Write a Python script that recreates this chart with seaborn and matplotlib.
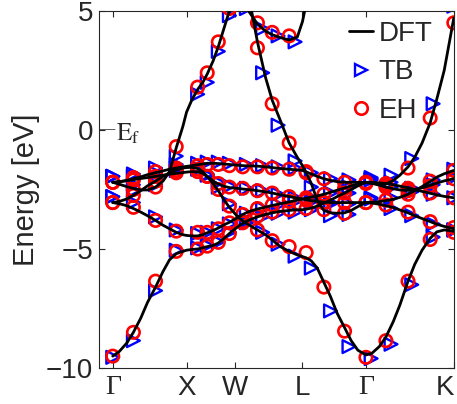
import numpy as np
import pandas as pd
import seaborn as sns
import matplotlib.pyplot as plt
from matplotlib.lines import Line2D

sns.set_style('ticks')
plt.rcParams['font.family'] = ['Liberation Sans', 'DejaVu Sans']
plt.rcParams['mathtext.fontset'] = 'stix'
plt.rcParams['xtick.direction'] = 'in'
plt.rcParams['ytick.direction'] = 'in'

nan = np.nan

# k-path positions of the high-symmetry points
sym_k = [0.0, 1.0, 1.65, 2.57, 3.43, 4.62]
sym_labels = ['Γ', 'X', 'W', 'L', 'Γ', 'K']

# DFT bands (eV) sampled along the path
k_dft = [0.00, 0.09, 0.19, 0.28, 0.38, 0.47, 0.58, 0.68, 0.77, 0.86,
         0.95, 1.00, 1.07, 1.15, 1.22, 1.28, 1.36, 1.43, 1.51, 1.58,
         1.68, 1.76, 1.85, 1.96, 2.07, 2.16, 2.27, 2.39, 2.50, 2.57,
         2.62, 2.69, 2.77, 2.86, 2.95, 3.04, 3.14, 3.23, 3.32, 3.43,
         3.51, 3.61, 3.70, 3.80, 3.89, 4.00, 4.09, 4.19, 4.30, 4.39,
         4.49, 4.62]
band_s = [-9.50, -9.30, -8.95, -8.50, -7.90, -7.25, -6.60, -5.95, -5.45, -5.20,
          -5.10, -5.05, -5.02, -5.00, -4.95, -4.90, -4.85, -4.75, -4.55, -4.35,
          -4.10, -3.92, -3.78, -3.65, -3.55, -3.48, -3.42, -3.38, -3.35, -3.35,
          -3.33, -3.28, -3.20, -3.07, -2.95, -2.80, -2.65, -2.50, -2.35, -2.20,
          -2.20, -2.22, -2.25, -2.30, -2.36, -2.43, -2.50, -2.58, -2.66, -2.73,
          -2.79, -2.85]
band_a = [-3.05, -3.10, -3.18, -3.30, -3.45, -3.60, -3.80, -4.00, -4.15, -4.30,
          -4.40, -4.43, -4.45, -4.45, -4.40, -4.32, -4.22, -4.12, -3.98, -3.88,
          -3.70, -3.55, -3.42, -3.32, -3.24, -3.17, -3.10, -3.02, -2.95, -2.90,
          -2.87, -2.82, -2.77, -2.70, -2.62, -2.53, -2.44, -2.35, -2.27, -2.20,
          -2.24, -2.32, -2.40, -2.47, -2.52, -2.54, -2.50, -2.43, -2.33, -2.23,
          -2.14, -2.05]
band_c = [-3.05, -3.00, -2.90, -2.75, -2.55, -2.35, -2.15, -1.95, -1.80, -1.68,
          -1.60, -1.58, -1.57, -1.62, -1.75, -1.95, -2.15, -2.27, -2.37, -2.42,
          -2.45, -2.48, -2.51, -2.55, -2.60, -2.65, -2.72, -2.80, -2.86, -2.90,
          -2.93, -2.97, -3.00, -3.03, -3.05, -3.05, -3.05, -3.05, -3.05, -3.05,
          -3.04, -3.01, -2.97, -2.91, -2.83, -2.70, -2.55, -2.38, -2.17, -1.98,
          -1.84, -1.70]
band_e = [-2.20, -2.18, -2.12, -2.05, -1.97, -1.88, -1.80, -1.72, -1.65, -1.60,
          -1.55, -1.53, -1.50, -1.46, -1.43, -1.40, -1.40, -1.41, -1.43, -1.45,
          -1.48, -1.50, -1.51, -1.52, -1.55, -1.58, -1.62, -1.65, -1.68, -1.70,
          -1.76, -1.85, -1.95, -2.05, -2.12, -2.17, -2.20, -2.20, -2.20, -2.20,
          -2.24, -2.28, -2.27, -2.12, -1.90, -1.55, -1.15, -0.55, 0.30, 1.30,
          2.50, 4.70]
band_f = [-2.20, -2.17, -2.13, -2.09, -2.04, -2.00, -1.95, -1.90, -1.86, -1.82,
          -1.79, -1.77, -1.75, -1.76, -1.82, -1.97, -2.25, -2.55, -2.95, -3.25,
          -3.60, -3.82, -4.00, -4.20, -4.40, -4.62, -4.90, -5.10, -5.25, -5.32,
          -5.37, -5.50, -5.80, -6.40, -7.00, -7.70, -8.30, -8.85, -9.25, -9.45,
          -9.38, -9.10, -8.70, -8.05, -7.35, -6.35, -5.65, -5.05, -4.55, -4.28,
          -4.20, -4.25]
band_d = [-2.20, -2.28, -2.38, -2.46, -2.52, -2.52, -2.40, -2.15, -1.75, -0.75,
          0.15, 0.75, 1.25, 1.70, 2.00, 2.35, 2.90, 3.50, 4.30, 5.00,
          5.80, 6.20, 5.50, 3.70, 2.20, 1.25, 0.40, -0.55, -1.15, -1.50,
          -1.80, -2.25, -2.95, -3.38, -3.48, -3.50, -3.48, -3.38, -3.22, -3.05,
          -3.07, -3.12, -3.18, -3.26, -3.36, -3.48, -3.60, -3.72, -3.85, -3.96,
          -4.05, -4.15]
band_u = [nan] * 20 + [6.30, 5.50, 4.95, 4.45, 4.15, 4.00, 3.88, 3.78, 3.90, 4.55,
                       5.30, 6.30] + [nan] * 20

# extended Hueckel points
k_eh = [0.00, 0.28, 0.58, 0.86, 1.15, 1.28, 1.43, 1.58, 1.76, 1.96,
        2.16, 2.39, 2.62, 2.86, 3.14, 3.43, 3.70, 4.00, 4.30, 4.62]
eh_s = [-9.5, -8.5, -6.35, -5.1, -5.0, -4.88, -4.72, -4.35, -3.9, -3.62,
        -3.45, -3.35, -3.3, -3.05, -2.65, -2.25, -2.25, -2.45, -2.65, -2.85]
eh_a = [-3.05, -3.25, -3.8, -4.25, -4.3, -4.3, -4.15, -3.9, -3.55, -3.3,
        -3.15, -3.0, -2.85, -2.7, -2.45, -2.2, -2.4, -2.55, -2.35, -2.05]
eh_c = [-3.05, -2.75, -2.15, -1.7, -1.65, -1.95, -2.25, -2.4, -2.45, -2.55,
        -2.65, -2.8, -2.95, -3.05, -3.05, -3.05, -2.95, -2.7, -2.15, -1.7]
eh_e = [-2.2, -2.0, -1.75, -1.6, -1.5, -1.45, -1.45, -1.5, -1.55, -1.55,
        -1.6, -1.65, -1.75, -2.05, -2.2, -2.2, -2.3, -1.6, 0.5, 4.5]
eh_f = [-2.2, -2.1, -1.95, -1.8, -1.75, -1.95, -2.5, -3.2, -3.85, -4.2,
        -4.65, -4.9, -5.15, -6.6, -8.45, -9.55, -8.85, -6.35, -4.6, -4.3]
eh_d = [-2.2, -2.5, -2.4, -0.7, 1.8, 2.4, 3.7, 5.1, 6.3, 3.45,
        1.1, -0.55, -1.8, -3.35, -3.5, -3.05, -3.15, -3.45, -3.85, -4.1]
eh_u = [nan] * 8 + [5.5, 4.5, 4.1, 3.95, 5.4] + [nan] * 7

# tight-binding points
k_tb = [0.00, 0.28, 0.58, 0.86, 1.15, 1.28, 1.43, 1.58, 1.81, 2.03,
        2.24, 2.47, 2.69, 2.95, 3.20, 3.50, 3.77, 4.05, 4.34, 4.62]
tb_s = [-9.55, -8.85, -6.75, -5.05, -4.95, -4.85, -4.7, -4.3, -3.9, -3.65,
        -3.5, -3.45, -3.35, -3.05, -2.65, -2.05, -2.2, -2.45, -2.7, -2.85]
tb_a = [-2.8, -3.05, -3.65, -4.2, -4.35, -4.3, -4.15, -3.95, -3.5, -3.3,
        -3.15, -3.0, -2.85, -2.65, -2.4, -2.1, -2.4, -2.5, -2.3, -2.0]
tb_c = [-2.8, -2.55, -2.0, -1.6, -1.6, -1.9, -2.2, -2.35, -2.45, -2.55,
        -2.7, -2.85, -3.0, -3.1, -3.1, -2.85, -2.85, -2.6, -2.1, -1.65]
tb_e = [-1.95, -1.85, -1.6, -1.45, -1.4, -1.35, -1.35, -1.4, -1.45, -1.5,
        -1.55, -1.6, -1.8, -2.05, -2.1, -2.0, -1.9, -1.2, 1.1, 5.2]
tb_f = [-1.95, -1.95, -1.8, -1.7, -1.65, -1.85, -2.4, -3.1, -3.8, -4.3,
        -4.8, -5.3, -5.8, -7.6, -9.1, -9.6, -9.0, -6.5, -4.5, -4.2]
tb_d = [-1.95, -2.3, -2.3, -1.1, 1.5, 2.0, 3.3, 4.8, 6.0, 2.4,
        0.2, -1.3, -2.4, -3.6, -3.55, -2.9, -3.3, -3.6, -3.95, -4.2]
tb_u = [nan] * 8 + [5.1, 4.25, 3.95, 3.7] + [nan] * 8


def to_long(k, bands):
    frames = []
    for i, b in enumerate(bands):
        frames.append(pd.DataFrame({'k': k, 'E': b, 'band': i}))
    return pd.concat(frames, ignore_index=True).dropna()


dft = to_long(k_dft, [band_s, band_a, band_c, band_e, band_f, band_d, band_u])
eh = to_long(k_eh, [eh_s, eh_a, eh_c, eh_e, eh_f, eh_d, eh_u])
tb = to_long(k_tb, [tb_s, tb_a, tb_c, tb_e, tb_f, tb_d, tb_u])

fig = plt.figure(figsize=(4.57, 4.04), dpi=100)
ax = fig.add_axes([0.216, 0.089, 0.777, 0.884])

sns.scatterplot(data=tb, x='k', y='E', marker='>', s=85, facecolor='none',
                edgecolor='#0000ff', linewidth=1.7, ax=ax, zorder=2)
sns.scatterplot(data=eh, x='k', y='E', marker='o', s=80, facecolor='none',
                edgecolor='#ff0000', linewidth=1.9, ax=ax, zorder=3)
sns.lineplot(data=dft, x='k', y='E', units='band', estimator=None, color='k',
             lw=2.0, ax=ax, zorder=4)

ax.set_xlim(-0.19, 4.62)
ax.set_ylim(-10, 5)
ax.set_yticks([-10, -5, 0, 5])
ax.set_xticks(sym_k)
ax.set_xticklabels(sym_labels)
xlabs = ax.get_xticklabels()
for lab in xlabs:
    if lab.get_text() == 'Γ':
        lab.set_fontfamily('Liberation Serif')
xlabs[-1].set_horizontalalignment('right')
ax.tick_params(axis='both', labelsize=20, length=4, width=0.8,
               top=True, right=True)
ax.tick_params(axis='x', pad=5)
ax.tick_params(axis='y', pad=4)
for sp in ax.spines.values():
    sp.set_linewidth(0.8)
ax.set_xlabel('')
ax.set_ylabel('Energy [eV]', fontsize=21, labelpad=4)

# Fermi level marker next to the axis
ax.text(-0.19, 0.0, '—', fontsize=11, ha='left', va='center',
        family='Liberation Serif')
ax.text(0.05, -0.45, r'$\mathrm{E}_\mathrm{f}$', fontsize=18, ha='left',
        va='baseline')

handles = [
    Line2D([], [], color='k', lw=2.0, label='DFT'),
    Line2D([], [], marker='>', ls='', mfc='none', mec='#0000ff', mew=1.7,
           ms=9, label='TB'),
    Line2D([], [], marker='o', ls='', mfc='none', mec='#ff0000', mew=1.9,
           ms=9, label='EH'),
]
ax.legend(handles=handles, loc='upper right', bbox_to_anchor=(0.94, 0.972),
          frameon=False, fontsize=20, handlelength=0.85, handletextpad=0.2,
          labelspacing=0.45, borderpad=0, borderaxespad=0)

fig.savefig('out.png', dpi=100)
